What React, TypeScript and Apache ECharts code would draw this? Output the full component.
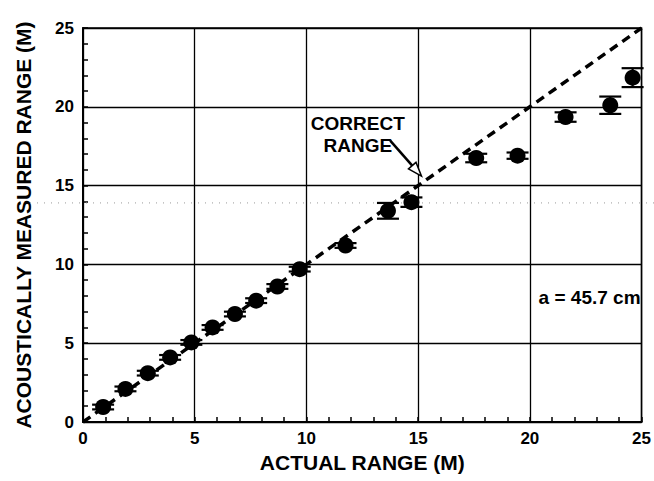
import React, { useEffect, useRef } from "react";
import * as echarts from "echarts";

const actualRange = [0.9, 1.9, 2.9, 3.9, 4.85, 5.8, 6.8, 7.75, 8.7, 9.7, 11.75, 13.65, 14.7, 17.6, 19.45, 21.6, 23.6, 24.6];
const measuredRange = [0.95, 2.1, 3.1, 4.1, 5.05, 6.0, 6.85, 7.7, 8.6, 9.7, 11.2, 13.4, 13.95, 16.75, 16.9, 19.35, 20.1, 21.85];
const errorHalf = [0.15, 0.15, 0.15, 0.15, 0.15, 0.15, 0.15, 0.15, 0.15, 0.15, 0.15, 0.5, 0.3, 0.27, 0.2, 0.3, 0.55, 0.6];
const correctLine = [[0, 0], [25, 25]];
const axisTicks = [0, 5, 10, 15, 20, 25];

const FONT = "'Liberation Sans', Arial, Helvetica, sans-serif";

export default function App() {
  const ref = useRef<HTMLDivElement>(null);
  useEffect(() => {
    if (!ref.current) return;
    const chart = echarts.init(ref.current, null, { renderer: "svg" });
    const points = actualRange.map((x, i) => [x, measuredRange[i]]);
    const errData = actualRange.map((x, i) => [x, measuredRange[i] - errorHalf[i], measuredRange[i] + errorHalf[i]]);
    const axisCommon = {
      min: axisTicks[0],
      max: axisTicks[axisTicks.length - 1],
      interval: 5,
      axisLine: { show: true, lineStyle: { color: "#000", width: 2 } },
      axisTick: { show: true, inside: true, length: 5, lineStyle: { color: "#000", width: 1.5 } },
      minorTick: { show: true, splitNumber: 5, length: 5, lineStyle: { color: "#000", width: 1.5 } },
      splitLine: { show: true, lineStyle: { color: "#000", width: 1.3 } },
      axisLabel: { color: "#000", fontSize: 17, fontWeight: "bold", fontFamily: FONT },
      nameTextStyle: { color: "#000", fontSize: 21, fontWeight: "bold", fontFamily: FONT },
    };
    chart.setOption({
      animation: false,
      backgroundColor: "#fff",
      grid: { left: 83, right: 12, top: 28, bottom: 59, show: true, borderColor: "#000", borderWidth: 1.5 },
      xAxis: {
        type: "value",
        ...axisCommon,
        name: "ACTUAL RANGE (M)",
        nameLocation: "middle",
        nameGap: 30,
        axisLabel: { ...axisCommon.axisLabel, margin: 8 },
      },
      yAxis: {
        type: "value",
        ...axisCommon,
        name: "ACOUSTICALLY MEASURED RANGE (M)",
        nameLocation: "middle",
        nameGap: 49,
        axisLabel: { ...axisCommon.axisLabel, margin: 9 },
      },
      series: [
        {
          type: "line",
          data: correctLine,
          showSymbol: false,
          symbol: "none",
          lineStyle: { color: "#000", width: 3.5, type: [9, 6] },
          z: 2,
        },
        {
          type: "custom",
          data: errData,
          z: 3,
          renderItem: (params: any, api: any) => {
            const x = api.value(0);
            const lo = api.coord([x, api.value(1)]);
            const hi = api.coord([x, api.value(2)]);
            const hw = 11;
            const style = { stroke: "#000", lineWidth: 2.2 };
            return {
              type: "group",
              children: [
                { type: "line", shape: { x1: lo[0], y1: lo[1], x2: hi[0], y2: hi[1] }, style },
                { type: "line", shape: { x1: lo[0] - hw, y1: lo[1], x2: lo[0] + hw, y2: lo[1] }, style },
                { type: "line", shape: { x1: hi[0] - hw, y1: hi[1], x2: hi[0] + hw, y2: hi[1] }, style },
              ],
            };
          },
        },
        {
          type: "scatter",
          data: points,
          symbol: "circle",
          symbolSize: 16,
          itemStyle: { color: "#000", opacity: 1 },
          z: 4,
        },
      ],
    });

    const px = (p: number[]) => chart.convertToPixel({ gridIndex: 0 }, p) as number[];
    const tail = px([13.75, 17.85]);
    const tip = px([15.15, 15.6]);
    const dx = tip[0] - tail[0];
    const dy = tip[1] - tail[1];
    const len = Math.sqrt(dx * dx + dy * dy);
    const ux = dx / len;
    const uy = dy / len;
    const headLen = 14;
    const headHalf = 5;
    const base = [tip[0] - ux * headLen, tip[1] - uy * headLen];
    const textPos = px([12.3, 18.25]);
    const aPos = px([25, 7.87]);
    const dotY = px([0, 13.9])[1];

    chart.setOption({
      graphic: [
        {
          type: "line",
          shape: { x1: 30, y1: dotY, x2: 654, y2: dotY },
          style: { stroke: "#999", lineWidth: 1, lineDash: [1, 6] },
          z: 1,
        },
        {
          type: "text",
          x: textPos[0],
          y: textPos[1],
          style: {
            text: "CORRECT\nRANGE",
            fill: "#000",
            font: `bold 19px ${FONT}`,
            align: "center",
            verticalAlign: "middle",
            lineHeight: 22,
          },
          z: 10,
        },
        {
          type: "line",
          shape: { x1: tail[0], y1: tail[1], x2: base[0], y2: base[1] },
          style: { stroke: "#000", lineWidth: 2.5 },
          z: 10,
        },
        {
          type: "polygon",
          shape: {
            points: [
              tip,
              [base[0] - uy * headHalf, base[1] + ux * headHalf],
              [base[0] + uy * headHalf, base[1] - ux * headHalf],
            ],
          },
          style: { fill: "#fff", stroke: "#000", lineWidth: 1.5 },
          z: 10,
        },
        {
          type: "text",
          x: aPos[0] - 1,
          y: aPos[1],
          style: {
            text: "a = 45.7 cm",
            fill: "#000",
            font: `bold 19px ${FONT}`,
            align: "right",
            verticalAlign: "middle",
          },
          z: 10,
        },
      ],
    });
    return () => chart.dispose();
  }, []);
  return <div ref={ref} style={{ position: "absolute", left: 0, top: 0, width: 654, height: 481 }} />;
}
